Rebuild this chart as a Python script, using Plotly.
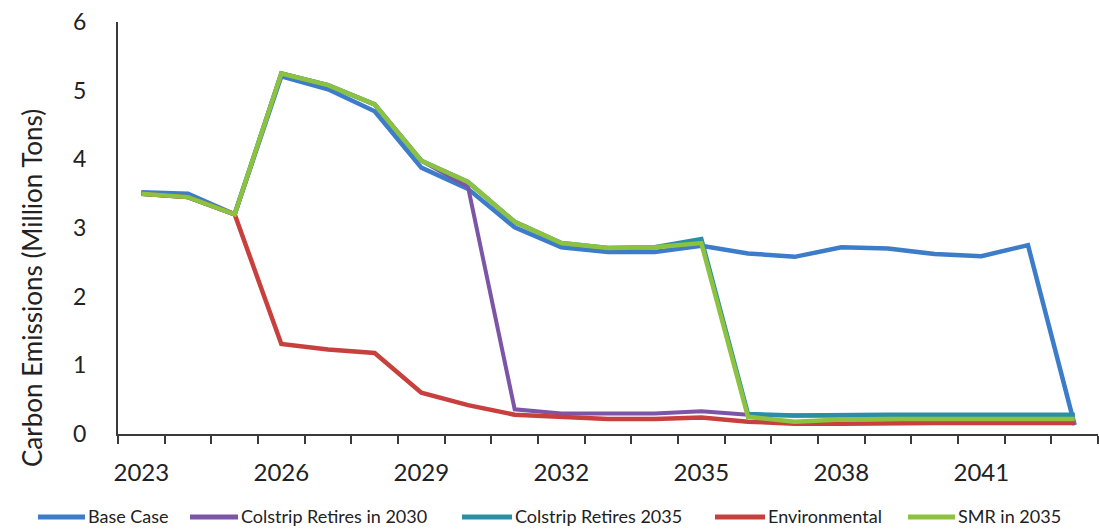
import plotly.graph_objects as go

years = list(range(2023, 2044))

base_case = [3.52, 3.50, 3.20, 5.21, 5.02, 4.70, 3.88, 3.57, 3.01, 2.72, 2.65, 2.65, 2.74,
             2.63, 2.58, 2.72, 2.70, 2.62, 2.59, 2.75, 0.13]
colstrip_2030 = [3.50, 3.45, 3.20, 5.25, 5.08, 4.80, 3.98, 3.60, 0.36, 0.30, 0.30, 0.30, 0.33,
                 0.28, 0.27, 0.27, 0.27, 0.27, 0.27, 0.27, 0.27]
colstrip_2035 = [3.50, 3.45, 3.20, 5.25, 5.08, 4.80, 3.98, 3.67, 3.09, 2.78, 2.71, 2.72, 2.84,
                 0.29, 0.27, 0.28, 0.28, 0.28, 0.28, 0.28, 0.28]
environmental = [3.50, 3.45, 3.20, 1.31, 1.23, 1.18, 0.60, 0.42, 0.28, 0.25, 0.22, 0.22, 0.24,
                 0.18, 0.15, 0.15, 0.16, 0.16, 0.16, 0.16, 0.16]
smr_2035 = [3.50, 3.45, 3.20, 5.25, 5.08, 4.80, 3.98, 3.67, 3.09, 2.78, 2.71, 2.72, 2.78,
            0.25, 0.18, 0.21, 0.22, 0.22, 0.22, 0.22, 0.22]

series = [
    ("Base Case", base_case, "#3D7CC9", 4.5),
    ("Colstrip Retires in 2030", colstrip_2030, "#7D55A6", 4),
    ("Colstrip Retires 2035", colstrip_2035, "#2A8FA3", 4.5),
    ("Environmental", environmental, "#C8403E", 4.5),
    ("SMR in 2035", smr_2035, "#8CC23F", 4.5),
]

x_labels = [2023, 2026, 2029, 2032, 2035, 2038, 2041]
y_ticks = [0, 1, 2, 3, 4, 5, 6]

# plot-area geometry in pixels (used to place the key row under the axis)
PLOT_L, PLOT_W, PLOT_T, PLOT_H = 118, 980, 22, 412
key_y_px = 516
key_swatch_px = [(38, 85), (190, 238), (462, 512), (715, 765), (908, 955)]


def px_x(p):
    return (p - PLOT_L) / PLOT_W


def px_y(p):
    return (PLOT_T + PLOT_H - p) / PLOT_H


fig = go.Figure()
for name, vals, color, width in series:
    fig.add_trace(go.Scatter(
        x=years, y=vals, name=name, mode="lines",
        line=dict(color=color, width=width),
    ))

font_family = "Lato, 'Open Sans', sans-serif"

shapes = []
annotations = []
for (name, _, color, _), (x0, x1) in zip(series, key_swatch_px):
    shapes.append(dict(
        type="line", xref="paper", yref="paper",
        x0=px_x(x0), x1=px_x(x1), y0=px_y(key_y_px + 1), y1=px_y(key_y_px + 1),
        line=dict(color=color, width=5),
    ))
    annotations.append(dict(
        text=name, xref="paper", yref="paper",
        x=px_x(x1 + 2), y=px_y(key_y_px), xanchor="left", yanchor="middle",
        showarrow=False, borderpad=0,
        font=dict(size=18, color="#222222", family=font_family),
    ))

annotations.append(dict(
    text="Carbon Emissions (Million Tons)",
    xref="paper", yref="paper",
    x=px_x(32), y=px_y(288), xanchor="center", yanchor="middle",
    textangle=-90, showarrow=False,
    font=dict(size=26, color="#222222", family=font_family),
))

fig.update_layout(
    width=1099, height=529,
    margin=dict(l=118, r=1, t=22, b=95, autoexpand=False),
    paper_bgcolor="white", plot_bgcolor="white",
    font=dict(family=font_family, color="#222222"),
    showlegend=False,
    xaxis=dict(
        range=[2022.5, 2043.5],
        tickvals=x_labels, ticktext=[str(v) for v in x_labels],
        ticks="", showgrid=False, zeroline=False,
        showline=True, linecolor="#3a3a3a", linewidth=2,
        tickfont=dict(size=24, color="#222222"),
        ticklabelstandoff=16,
        minor=dict(ticks="outside", ticklen=8, tickwidth=2, tickcolor="#3a3a3a",
                   tick0=2022.5, dtick=1, showgrid=False),
    ),
    yaxis=dict(
        range=[0, 6], tickvals=y_ticks,
        ticks="", showgrid=False, zeroline=False,
        showline=True, linecolor="#3a3a3a", linewidth=2,
        tickfont=dict(size=23, color="#222222"),
        ticklabelstandoff=25,
    ),
    shapes=shapes,
    annotations=annotations,
)

fig.write_html("out.html")
